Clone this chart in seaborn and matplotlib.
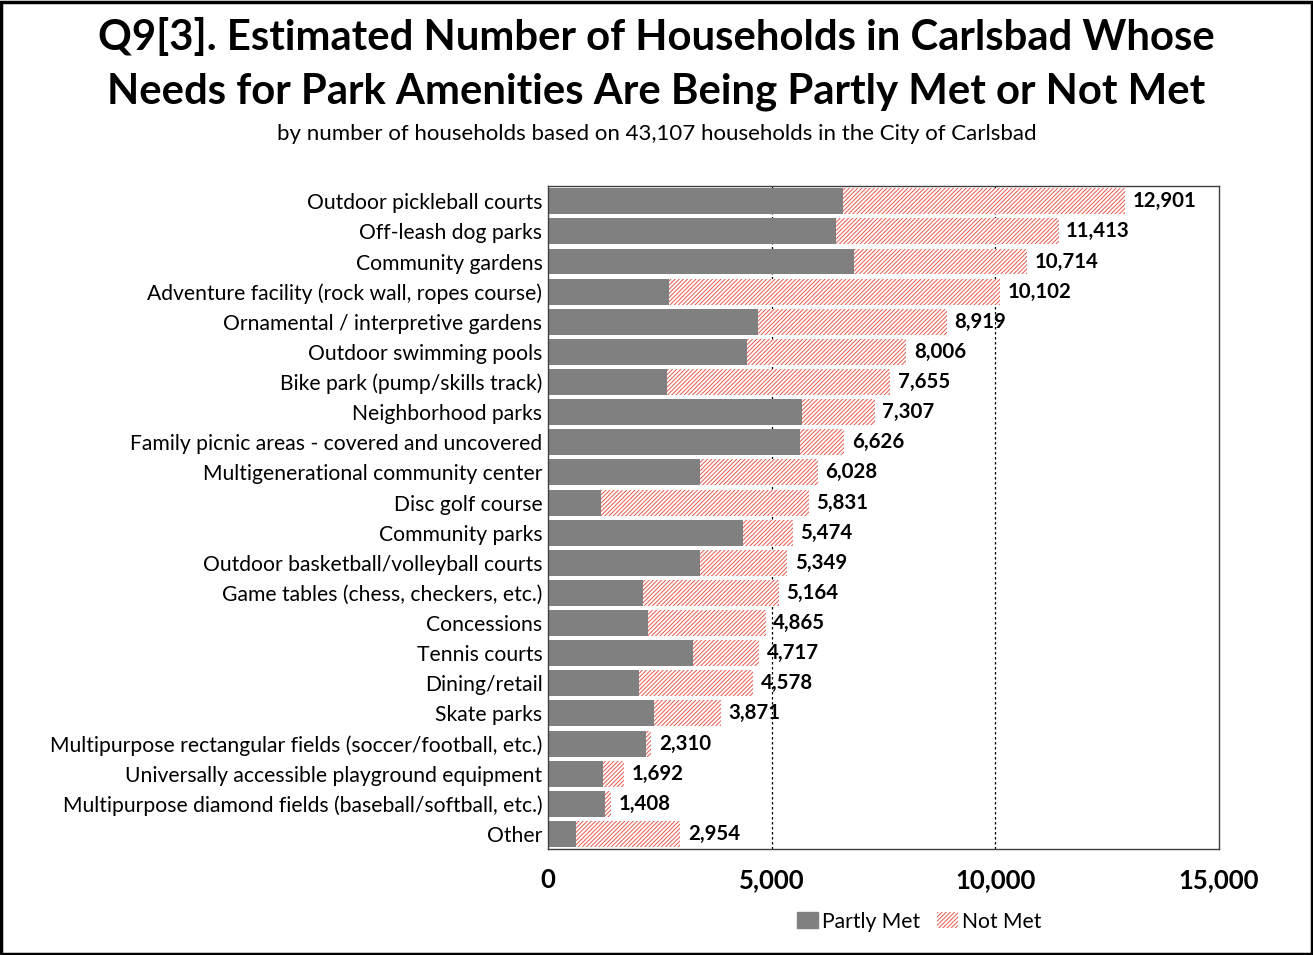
import matplotlib
matplotlib.use('Agg')
import matplotlib.pyplot as plt
import seaborn as sns
import pandas as pd
from matplotlib.patches import Patch, Rectangle

categories = [
    'Outdoor pickleball courts',
    'Off-leash dog parks',
    'Community gardens',
    'Adventure facility (rock wall, ropes course)',
    'Ornamental / interpretive gardens',
    'Outdoor swimming pools',
    'Bike park (pump/skills track)',
    'Neighborhood parks',
    'Family picnic areas - covered and uncovered',
    'Multigenerational community center',
    'Disc golf course',
    'Community parks',
    'Outdoor basketball/volleyball courts',
    'Game tables (chess, checkers, etc.)',
    'Concessions',
    'Tennis courts',
    'Dining/retail',
    'Skate parks',
    'Multipurpose rectangular fields (soccer/football, etc.)',
    'Universally accessible playground equipment',
    'Multipurpose diamond fields (baseball/softball, etc.)',
    'Other',
]
partly_met = [6595, 6433, 6834, 2712, 4688, 4456, 2667, 5668, 5637, 3402, 1174,
              4360, 3402, 2132, 2228, 3246, 2036, 2362, 2192, 1226, 1279, 617]
total = [12901, 11413, 10714, 10102, 8919, 8006, 7655, 7307, 6626, 6028, 5831,
         5474, 5349, 5164, 4865, 4717, 4578, 3871, 2310, 1692, 1408, 2954]
x_ticks = [0, 5000, 10000, 15000]

df = pd.DataFrame({'amenity': categories, 'partly': partly_met, 'total': total})

sns.set_style('white')
plt.rcParams['font.family'] = ['Lato', 'DejaVu Sans']
plt.rcParams['hatch.linewidth'] = 0.7
plt.rcParams['text.color'] = 'black'
plt.rcParams['xtick.color'] = 'black'
plt.rcParams['ytick.color'] = 'black'

hatch_red = '#e8584c'

fig = plt.figure(figsize=(13.13, 9.55), dpi=100)
ax = fig.add_axes([0.4174, 0.111, 0.5110, 0.694])

# not met = hatched total bar, partly met drawn on top
sns.barplot(data=df, x='total', y='amenity', orient='h', color='white',
            edgecolor=hatch_red, linewidth=0, hatch='////////', width=0.86,
            ax=ax, saturation=1)
sns.barplot(data=df, x='partly', y='amenity', orient='h', color='#808080',
            linewidth=0, width=0.86, ax=ax, saturation=1)

# value labels
for i, v in enumerate(total):
    ax.text(v + 170, i, f'{v:,}', va='center', ha='left',
            fontsize=14.7, fontweight='bold', color='black')

ax.set_xlim(0, 15000)
ax.set_xticks(x_ticks)
ax.set_xticklabels([f'{t:,}' for t in x_ticks], fontsize=18.5, fontweight='bold')
ax.tick_params(axis='x', length=0, pad=14, labelcolor='black')
ax.tick_params(axis='y', length=0, pad=4, labelsize=15.2, labelcolor='black')
ax.set_xlabel('')
ax.set_ylabel('')
for t in [5000, 10000]:
    ax.axvline(t, color='black', linestyle=(0, (2, 2)), linewidth=0.9, zorder=0)
for s in ax.spines.values():
    s.set_visible(True)
    s.set_color('#404040')
    s.set_linewidth(1.0)

fig.text(0.5, 0.961, 'Q9[3]. Estimated Number of Households in Carlsbad Whose',
         ha='center', va='center', fontsize=30.2, fontweight='bold', color='black')
fig.text(0.5, 0.904, 'Needs for Park Amenities Are Being Partly Met or Not Met',
         ha='center', va='center', fontsize=30.2, fontweight='bold', color='black')
fig.text(0.5, 0.860, 'by number of households based on 43,107 households in the City of Carlsbad',
         ha='center', va='center', fontsize=16, color='black')

handles = [Patch(facecolor='#808080', edgecolor='#808080', label='Partly Met'),
           Patch(facecolor='white', edgecolor=hatch_red, hatch='////////', linewidth=0,
                 label='Not Met')]
leg = fig.legend(handles=handles, loc='center', bbox_to_anchor=(0.7, 0.035), ncol=2,
                 frameon=False, fontsize=15.2, handlelength=1.0, handleheight=0.8,
                 handletextpad=0.2, columnspacing=0.8)
for t in leg.get_texts():
    t.set_color('black')

fig.patches.append(Rectangle((0.001, 0.001), 0.998, 0.997, transform=fig.transFigure,
                             fill=False, edgecolor='black', linewidth=2.5))

fig.savefig('out.png', dpi=100)
